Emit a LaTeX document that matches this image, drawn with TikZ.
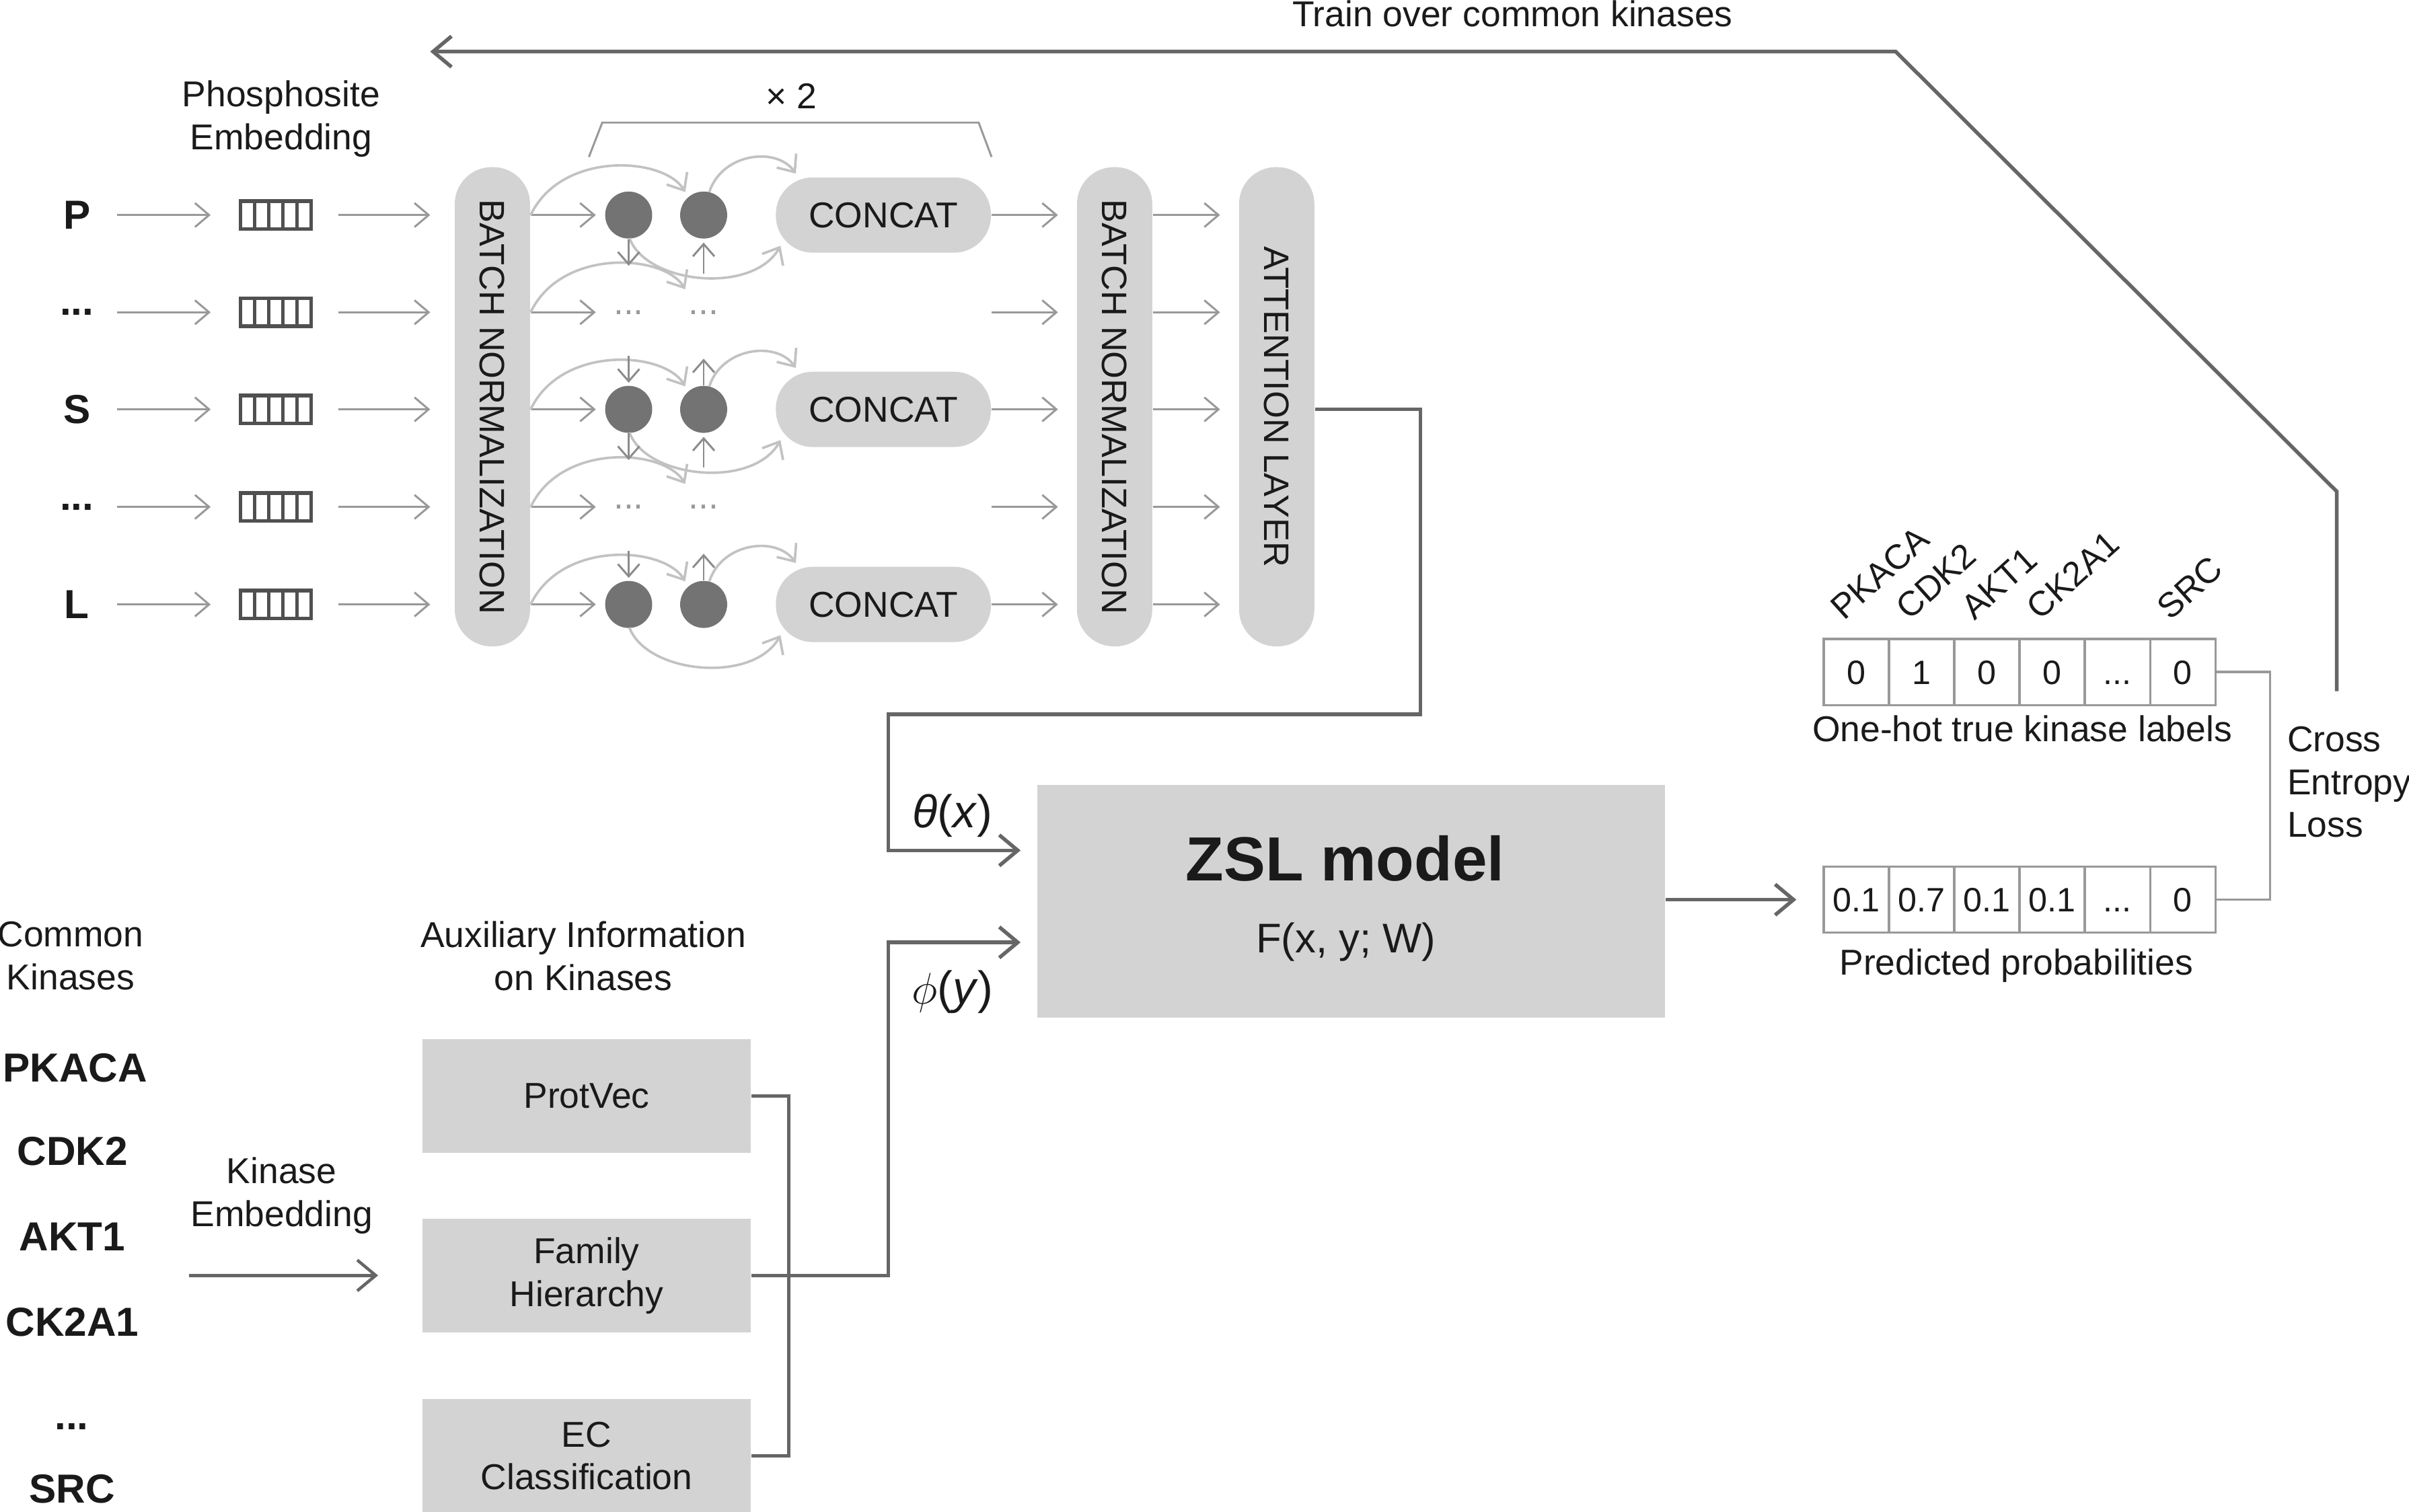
\documentclass[tikz,border=0pt]{standalone}
\usepackage{fontspec}
\setmainfont{Liberation Sans}
\usetikzlibrary{arrows.meta,calc}
\definecolor{txt}{HTML}{1A1A1A}
\definecolor{boxg}{HTML}{D3D3D3}
\definecolor{circg}{HTML}{737373}
\definecolor{midg}{HTML}{999999}
\definecolor{vertg}{HTML}{8C8C8C}
\definecolor{lightg}{HTML}{C2C2C2}
\definecolor{darkg}{HTML}{666666}
\definecolor{embg}{HTML}{505050}
\newcommand{\mydots}{...}
\begin{document}
\begin{tikzpicture}[x=0.5pt,y=-0.5pt,
  lbl/.style={font=\fontsize{11.7}{14}\selectfont, text=txt, inner sep=0pt, align=center},
  rowlbl/.style={font=\fontsize{13.2}{15}\selectfont\bfseries, text=txt, inner sep=0pt, minimum width=25.9pt},
  kin/.style={font=\fontsize{13.2}{15}\selectfont\bfseries, text=txt, inner sep=0pt, anchor=base},
  embed/.style={draw=embg, line width=1.2pt, minimum width=22.9pt, minimum height=9.1pt, inner sep=0pt,
     path picture={\foreach \k in {1,2,3,4}{\draw[embg,line width=1.1pt]
       ($(path picture bounding box.north west)!\k/5!(path picture bounding box.north east)$) --
       ($(path picture bounding box.south west)!\k/5!(path picture bounding box.south east)$);}}},
  pill/.style={fill=boxg, rounded corners=12pt, minimum width=24.5pt, minimum height=156pt, inner sep=0pt,
     font=\fontsize{11.5}{14}\selectfont, text=txt},
  concat/.style={fill=boxg, rounded corners=12pt, minimum width=70pt, minimum height=24.5pt, inner sep=0pt,
     font=\fontsize{11.7}{14}\selectfont, text=txt},
  circ/.style={circle, fill=circg, minimum size=15.3pt, inner sep=0pt},
  dotn/.style={font=\fontsize{11.7}{14}\selectfont, text=midg, minimum width=15.3pt, inner sep=0pt},
  gbox/.style={fill=boxg, minimum width=107pt, minimum height=37pt, inner sep=0pt, align=center,
     font=\fontsize{11.7}{14}\selectfont, text=txt},
  cell/.style={draw=midg, line width=0.75pt, minimum width=21.25pt, minimum height=21.5pt, inner sep=0pt,
     font=\fontsize{11}{13}\selectfont, text=txt, text height=8pt, text depth=0pt},
  marr/.style={draw=midg, line width=0.65pt, -{Straight Barb[length=4.6pt,width=7.8pt]}},
  varr/.style={draw=vertg, line width=0.65pt, -{Straight Barb[length=4pt,width=7pt]}},
  lcurve/.style={draw=lightg, line width=0.8pt, -{Straight Barb[length=4.6pt,width=7.8pt]}},
  darr/.style={draw=darkg, line width=1.2pt, -{Straight Barb[length=6pt,width=10pt]}},
  dline/.style={draw=darkg, line width=1.2pt},
  vline/.style={draw=midg, line width=0.75pt}
]
\useasboundingbox (0,0) rectangle (1568,984);
\fill[white] (0,0) rectangle (1568,984);

% ---------- top title ----------
\node[lbl, anchor=base] (title) at (984.5,17.2) {Train over common kinases};

% ---------- phosphosite input ----------
\node[lbl] (phl) at (183,77.4) {Phosphosite\\Embedding};
\node[rowlbl] (lP) at (50,140) {P};
\node[rowlbl] (lD1) at (50,203.3) {...};
\node[rowlbl] (lS) at (50,266.5) {S};
\node[rowlbl] (lD2) at (50,330) {...};
\node[rowlbl] (lL) at (50,393.5) {L};
\foreach \r/\y in {P/140,D1/203.3,S/266.5,D2/330,L/393.5}{
  \node[embed] (e\r) at (179.5,\y) {};
}

\node[pill] (bn1) at (320.5,264.8) {\rotatebox{-90}{BATCH NORMALIZATION}};
\node[pill] (bn2) at (725.5,264.8) {\rotatebox{-90}{BATCH NORMALIZATION}};
\node[pill] (att) at (831,264.8) {\rotatebox{-90}{ATTENTION LAYER}};

\foreach \r/\y in {P/140,S/266.5,L/393.5}{
  \node[circ] (c1\r) at (409.2,\y) {};
  \node[circ] (c2\r) at (458,\y) {};
  \node[concat] (cc\r) at (575,\y) {CONCAT};
}
\foreach \r/\y in {D1/203.3,D2/330}{
  \node[dotn] (c1\r) at (409.2,\y) {\mydots};
  \node[dotn] (c2\r) at (458,\y) {\mydots};
}

% bracket x 2
\coordinate (brA) at (383.3,102.2);
\coordinate (brB) at (392,79.8);
\coordinate (brC) at (637,79.8);
\coordinate (brD) at (645.4,102.2);
\draw[vline, line width=0.65pt] (brA) -- (brB) -- (brC) -- (brD);
\node[lbl, anchor=base] (x2) at (515,70.8) {× 2};

% row arrows
\foreach \r in {P,D1,S,D2,L}{
  \draw[marr, shorten >=9.15pt] (l\r) -- (e\r);
  \draw[marr, shorten <=8.35pt, shorten >=7.8pt] (e\r) -- (e\r -| bn1.west);
  \draw[marr, shorten >=2.85pt] (c1\r -| bn1.east) -- (c1\r);
  \draw[marr, shorten >=6pt] (c1\r -| ccP.east) -- (c1\r -| bn2.west);
  \draw[marr, shorten >=6pt] (c1\r -| bn2.east) -- (c1\r -| att.west);
  \draw[lcurve] (c1\r -| bn1.east) .. controls +(20,-42) and +(-14,-23) .. ($(c2\r)+(-12,-15)$);
}
\foreach \r in {P,S,L}{
  \draw[lcurve] ($(c2\r)+(3.7,-15)$) .. controls +(8,-25) and +(-13,-18) .. ($(cc\r)+(-57,-27)$);
  \draw[lcurve] ($(c1\r)+(0.5,15)$) .. controls +(11,30) and +(-18,32) .. ($(cc\r)+(-67,20)$);
}
% vertical recurrent arrows
\foreach \r in {P,S}{
  \draw[varr] (c1\r.south) -- ($(c1\r)+(0,33)$);
  \draw[varr, shorten >=1.1pt] ($(c2\r)+(0,38)$) -- (c2\r.south);
}
\foreach \r in {S,L}{
  \draw[varr, shorten >=0.8pt] ($(c1\r)+(0,-35)$) -- (c1\r.north);
  \draw[varr] (c2\r.north) -- ($(c2\r)+(0,-33)$);
}

% ---------- ZSL model ----------
\node[fill=boxg, minimum width=204.2pt, minimum height=75.95pt, inner sep=0pt] (zsl) at (879.5,586.75) {};
\node[font=\fontsize{20.3}{24}\selectfont\bfseries, text=txt, inner sep=0pt, anchor=base] (zslT) at (875.5,573.4) {ZSL model};
\node[font=\fontsize{13.5}{16}\selectfont, text=txt, inner sep=0pt, anchor=base] (zslF) at (876,620.3) {F(x, y; W)};

\coordinate (thIn) at (675.3,553.6);
\coordinate (phIn) at (675.3,613.5);
\coordinate (tA) at (924.5,465);
\coordinate (tB) at (578.3,465);
\draw[darr, shorten >=5.5pt] (att.east |- ccS) -| (tA) -- (tB) |- (thIn);
\node[font=\fontsize{15}{18}\selectfont, text=txt, inner sep=0pt, anchor=base] (thl) at (620,538.6) {\textit{θ}(\textit{x})};

% ---------- kinases ----------
\node[lbl] (ckl) at (46,622.4) {Common\\Kinases};
\node[lbl] (auxl) at (379.7,622.4) {Auxiliary Information\\on Kinases};
\node[kin] (k1) at (48.9,704.2) {PKACA};
\node[kin] (k2) at (47.1,758.5) {CDK2};
\node[kin] (k3) at (47,814.1) {AKT1};
\node[kin] (k4) at (47,869.7) {CK2A1};
\node[kin] (k5) at (46.6,930.6) {...};
\node[kin] (k6) at (47,978.2) {SRC};
\node[lbl] (kel) at (183.3,778.4) {Kinase\\Embedding};

\node[gbox] (pv) at (381.8,713.5) {ProtVec};
\node[gbox] (fh) at (381.8,830.3) {Family\\Hierarchy};
\node[gbox] (ec) at (381.8,947.8) {EC\\Classification};

\coordinate (kA) at (123,830.3);
\draw[darr, line width=1pt, shorten >=14.15pt] (kA) -- (fh.west);

\coordinate (brk) at (513.3,830.3);
\draw[dline] (pv.east) -| (brk) |- (ec.east);
\coordinate (pA) at (578.3,613.5);
\draw[darr, shorten >=5.5pt] (fh.east) -| (pA) -- (phIn);
\node[font=\fontsize{15}{18}\selectfont, text=txt, inner sep=0pt, anchor=base] (phl2) at (620,653.7) {$\phi$(\textit{y})};

% ---------- label vectors ----------
\foreach \i/\v/\w [count=\n] in {0/0/0.1, 1/1/0.7, 2/0/0.1, 3/0/0.1, 4/\mydots/\mydots, 5/0/0}{
  \node[cell] (o\n) at (1208.25+42.5*\i,437.5) {\v};
  \node[cell] (p\n) at (1208.25+42.5*\i,585.7) {\w};
}
\foreach \i/\t [count=\n] in {0/PKACA,1/CDK2,2/AKT1,3/CK2A1,5/SRC}{
  \node[lbl, font=\fontsize{11.3}{14}\selectfont, rotate=42, anchor=base west] (rk\n) at (1200+42.5*\i,404.5) {\t};
}
\node[lbl, anchor=base] (ohl) at (1316.2,482.7) {One-hot true kinase labels};
\node[lbl, anchor=base] (ppl) at (1312.4,634.7) {Predicted probabilities};

\draw[darr, shorten >=8.5pt] (zsl.east |- p1) -- (p1.west);

\coordinate (vb) at (1477.6,511);
\draw[vline] (o6.east) -| (vb) |- (p6.east);
\node[lbl, anchor=north west, align=left] (cel) at (1488.4,472.4) {Cross\\Entropy\\Loss};

% ---------- feedback ----------
\coordinate (fbS) at (1521,450);
\coordinate (fb1) at (1521,320);
\coordinate (fb2) at (1233.9,33.6);
\coordinate (fbE) at (280,33.6);
\draw[darr] (fbS) -- (fb1) -- (fb2) -- (fbE);
\end{tikzpicture}
\end{document}
